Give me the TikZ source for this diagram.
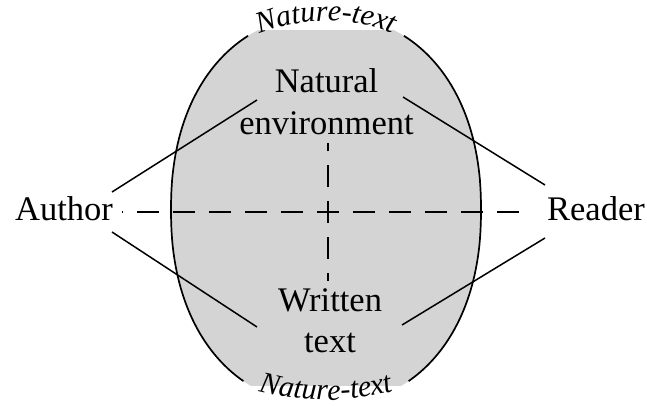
\documentclass[tikz,border=0pt]{standalone}
\usepackage{fontspec}
\setmainfont{Liberation Serif}
\usetikzlibrary{decorations.text}
\begin{document}
\begin{tikzpicture}[x=1pt,y=1pt,
  declare function={sp(\u)=sign(\u)*pow(abs(\u)+0.000001,0.909);},
  lbl/.style={font=\fontsize{34.5}{41}\selectfont, inner sep=0pt, anchor=base},
  link/.style={line width=1.5pt, black},
  dsh/.style={line width=1.5pt, dash pattern=on 22pt off 14pt, dash phase=11pt},
  rim/.style={line width=1.7pt},
  blob/.style={fill=black!17},
  curvetext/.style={decorate, decoration={text along path, text align=center,
     text={|\itshape\fontsize{30}{30}\selectfont|Nature-text}}}
]
\useasboundingbox (0,0) rectangle (647,405);
\fill[white] (0,0) rectangle (647,405);
% filled oval
\begin{scope}
  \clip (0,20) rectangle (647,374);
  \fill[blob] plot[domain=0:360, samples=181, variable=\t]
     ({326+155*sp(cos(\t))},{195+195*sp(sin(\t))}) -- cycle;
\end{scope}
% rim with gaps for the curved labels
\draw[rim] plot[domain=-60:62, samples=70, variable=\t]
     ({326+155*sp(cos(\t))},{195+195*sp(sin(\t))});
\draw[rim] plot[domain=118:240, samples=70, variable=\t]
     ({326+155*sp(cos(\t))},{195+195*sp(sin(\t))});
% curved labels
\path[curvetext] (326,204) ++(120:180) arc[start angle=120, end angle=60, radius=180];
\path[curvetext] (326,262) ++(250:257) arc[start angle=250, end angle=290, radius=257];
% text nodes
\node[lbl] (author) at (64,185) {Author};
\node[lbl] (reader) at (596,185) {Reader};
\node[lbl] (nat1) at (326.5,312) {Natural};
\node[lbl] (nat2) at (326.5,271) {environment};
\node[lbl] (wri1) at (330,94) {Written};
\node[lbl] (wri2) at (330,53) {text};
% connector ends
\coordinate (aU) at (112,213);
\coordinate (aL) at (112,173);
\coordinate (rU) at (545,220);
\coordinate (rL) at (545,167);
\coordinate (nL) at (257,305);
\coordinate (nR) at (403,308);
\coordinate (wL) at (257,78);
\coordinate (wR) at (402,80);
\draw[link] (aU) -- (nL);
\draw[link] (aL) -- (wL);
\draw[link] (rU) -- (nR);
\draw[link] (rL) -- (wR);
% dashed cross
\coordinate (c) at (328,193);
\coordinate (dl) at (122,193);
\coordinate (dr) at (525,193);
\coordinate (dt) at (328,262);
\coordinate (db) at (328,124);
\draw[dsh] (c) -- (dl);
\draw[dsh] (c) -- (dr);
\draw[dsh] (c) -- (dt);
\draw[dsh] (c) -- (db);
\end{tikzpicture}
\end{document}
